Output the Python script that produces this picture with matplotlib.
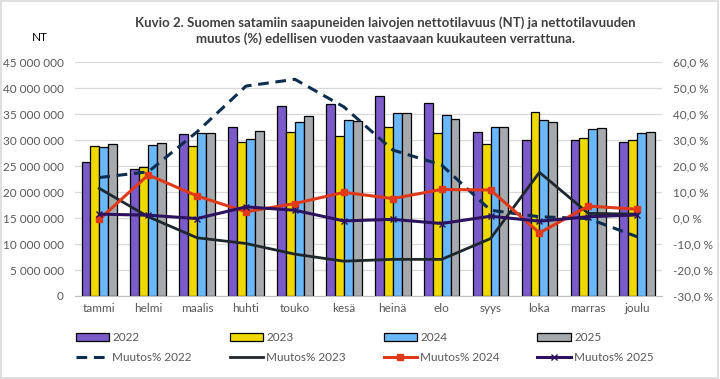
import numpy as np
import matplotlib
matplotlib.use("Agg")
import matplotlib.pyplot as plt
from matplotlib.ticker import FuncFormatter
from matplotlib.patches import Rectangle

plt.rcParams['font.family'] = ['Lato', 'DejaVu Sans']

months = ['tammi', 'helmi', 'maalis', 'huhti', 'touko', 'kesä',
          'heinä', 'elo', 'syys', 'loka', 'marras', 'joulu']

# nettotilavuus (NT)
nt_2022 = [25.7e6, 24.5e6, 31.1e6, 32.6e6, 36.5e6, 36.9e6,
           38.4e6, 37.1e6, 31.5e6, 30.1e6, 30.1e6, 29.6e6]
nt_2023 = [28.8e6, 24.9e6, 28.8e6, 29.6e6, 31.5e6, 30.7e6,
           32.6e6, 31.3e6, 29.2e6, 35.5e6, 30.5e6, 30.1e6]
nt_2024 = [28.6e6, 29.0e6, 31.3e6, 30.3e6, 33.4e6, 33.8e6,
           35.2e6, 34.8e6, 32.5e6, 33.8e6, 32.1e6, 31.3e6]
nt_2025 = [29.2e6, 29.4e6, 31.3e6, 31.7e6, 34.6e6, 33.7e6,
           35.2e6, 34.0e6, 32.6e6, 33.4e6, 32.3e6, 31.5e6]

# muutos % edellisestä vuodesta
chg_2022 = [15.6, 17.8, 33.2, 50.8, 53.4, 42.8, 26.2, 20.4, 3.0, 0.5, -0.2, -7.2]
chg_2023 = [11.4, 0.5, -7.6, -9.8, -13.9, -16.6, -15.9, -15.9, -7.9, 17.6, 1.8, 1.5]
chg_2024 = [-0.5, 16.6, 8.5, 2.4, 5.6, 9.9, 7.5, 11.0, 10.8, -5.7, 4.6, 3.4]
chg_2025 = [1.5, 1.1, -0.2, 4.3, 3.0, -1.1, -0.5, -2.1, 0.7, -1.2, 0.5, 1.2]

bar_colors = ['#7B5BC9', '#EED800', '#6AB8FA', '#A6AAAC']
txt = '#595959'

fig = plt.figure(figsize=(7.2, 3.79), dpi=100)
ax = fig.add_axes([0.104, 0.219, 0.815, 0.617])
ax2 = ax.twinx()

x = np.arange(len(months))
w = 0.182
bars = []
for k, (vals, lab) in enumerate(zip([nt_2022, nt_2023, nt_2024, nt_2025],
                                    ['2022', '2023', '2024', '2025'])):
    b = ax.bar(x + (k - 1.5) * w, vals, w, color=bar_colors[k],
               edgecolor='black', linewidth=0.9, label=lab, zorder=2)
    bars.append(b)

ax.set_xlim(-0.5, 11.5)
ax.set_ylim(0, 45e6)
ax.set_yticks(np.arange(0, 45e6 + 1, 5e6))
ax.yaxis.set_major_formatter(FuncFormatter(lambda v, p: f'{int(v):,}'.replace(',', ' ')))
ax.grid(axis='y', color='#D9D9D9', linewidth=0.9, zorder=0)
ax.set_axisbelow(True)
ax.set_xticks(x)
ax.set_xticklabels(months)

l1, = ax2.plot(x, chg_2022, color='#0E2E50', lw=2.2, ls=(0, (3.5, 2.2)),
               label='Muutos% 2022')
l2, = ax2.plot(x, chg_2023, color='#1E272C', lw=2.0, label='Muutos% 2023')
l3, = ax2.plot(x, chg_2024, color='#E0391A', lw=2.2, marker='s', ms=5,
               label='Muutos% 2024')
l4, = ax2.plot(x, chg_2025, color='#2D1260', lw=2.2, marker='x', ms=5,
               mew=1.0, label='Muutos% 2025')
ax2.set_ylim(-30, 60)
ax2.set_yticks(np.arange(-30, 61, 10))
ax2.yaxis.set_major_formatter(FuncFormatter(lambda v, p: f'{v:.1f} %'.replace('.', ',')))

for a in (ax, ax2):
    for s in ['top', 'left', 'right']:
        a.spines[s].set_visible(False)
    a.tick_params(length=0, labelsize=8.5, colors=txt)
ax2.spines['bottom'].set_visible(False)
ax.spines['bottom'].set_color('#BFBFBF')
ax.tick_params(axis='y', pad=8)
ax2.tick_params(axis='y', pad=8)
ax.tick_params(axis='x', pad=5)

fig.text(0.535, 0.92, 'Kuvio 2. Suomen satamiin saapuneiden laivojen nettotilavuus (NT) ja nettotilavuuden\n'
         'muutos (%) edellisen vuoden vastaavaan kuukauteen verrattuna.',
         ha='center', va='center', fontsize=9.5, fontweight='bold', color='#404040',
         linespacing=1.3)
fig.text(0.055, 0.902, 'NT', ha='center', va='center', fontsize=8.5, color='black')

handles = [bars[0], l1, bars[1], l2, bars[2], l3, bars[3], l4]
labels = [h.get_label() for h in handles]
fig.legend(handles, labels, ncol=4, loc='center left',
           bbox_to_anchor=(0.097, 0.083), frameon=False, fontsize=8.5,
           labelcolor=txt, handlelength=2.8, handletextpad=0.3,
           columnspacing=3.2, borderpad=0, labelspacing=0.75)

fig.patches.append(Rectangle((0.002, 0.003), 0.995, 0.994, transform=fig.transFigure,
                             fill=False, edgecolor='#D9D9D9', linewidth=1.2))

fig.savefig('out.png', dpi=100)
